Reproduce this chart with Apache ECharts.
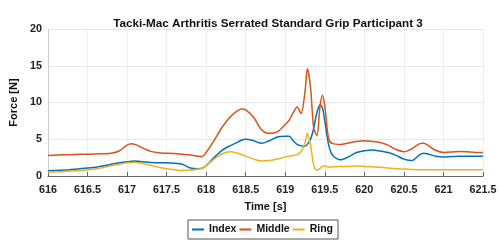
<!DOCTYPE html>
<html><head><meta charset="utf-8">
<script src="https://cdn.jsdelivr.net/npm/echarts@6/dist/echarts.min.js"></script>
<style>html,body{margin:0;padding:0;background:#fff}#c{width:500px;height:240px}</style>
</head><body><div id="c"></div>
<script>
const times = [616.0,616.2,616.4,616.6,616.8,616.9,617.0,617.05,617.1,617.2,617.3,617.4,617.5,617.6,617.7,617.8,617.9,617.95,618.0,618.1,618.2,618.3,618.4,618.45,618.5,618.6,618.7,618.8,618.9,619.0,619.05,619.1,619.15,619.2,619.25,619.28,619.32,619.36,619.4,619.44,619.47,619.5,619.55,619.6,619.7,619.8,619.9,620.0,620.1,620.2,620.3,620.4,620.5,620.6,620.7,620.75,620.8,620.9,621.0,621.1,621.2,621.3,621.4,621.5];
const indexF = [0.7,0.8,1.0,1.2,1.6,1.8,1.95,2.0,2.05,1.95,1.85,1.8,1.8,1.75,1.6,1.1,1.0,1.05,1.4,2.5,3.5,4.1,4.6,4.9,5.0,4.8,4.45,4.8,5.3,5.4,5.4,4.8,4.3,4.1,4.05,4.3,5.0,6.5,8.6,9.7,9.3,7.5,4.2,2.8,2.2,2.6,3.2,3.45,3.55,3.4,3.2,2.8,2.3,2.1,2.9,3.1,3.0,2.7,2.6,2.65,2.7,2.7,2.7,2.7];
const middleF = [2.8,2.9,2.95,3.0,3.1,3.4,4.2,4.4,4.3,3.8,3.35,3.15,3.1,3.05,2.95,2.85,2.7,2.65,3.2,4.8,6.6,8.0,8.9,9.1,9.0,8.0,6.3,5.8,6.0,7.0,7.6,8.6,9.4,8.5,11.5,14.6,12.0,6.5,5.5,9.5,11.0,9.5,5.0,4.4,4.3,4.5,4.7,4.8,4.7,4.55,4.2,3.6,3.3,3.7,4.4,4.45,4.2,3.5,3.2,3.25,3.35,3.3,3.2,3.2];
const ringF = [0.5,0.6,0.75,0.95,1.4,1.6,1.8,1.85,1.85,1.7,1.45,1.2,1.0,0.85,0.75,0.8,0.95,1.05,1.4,2.3,3.0,3.3,3.1,2.9,2.7,2.3,2.05,2.1,2.3,2.6,2.7,2.8,2.9,3.3,4.5,5.8,4.2,1.5,0.8,1.0,1.3,1.35,1.2,1.25,1.3,1.3,1.35,1.3,1.25,1.2,1.1,1.0,0.95,0.9,0.85,0.85,0.85,0.85,0.85,0.85,0.85,0.85,0.85,0.85];
const seriesNames = ['Index','Middle','Ring'];
const colors = ['#0072BD','#D95319','#EDB120'];
const font = '"Liberation Sans",Arial,sans-serif';
const chart = echarts.init(document.getElementById('c'));
const dataSets = [indexF, middleF, ringF];
chart.setOption({
  animation:false,
  title:{text:'Tacki-Mac Arthritis Serrated Standard Grip Participant 3',left:263,top:13,textAlign:'center',
    textStyle:{fontFamily:font,fontWeight:'bold',fontSize:11.7,color:'#111'}},
  grid:{left:43,right:17,top:29,bottom:64},
  legend:{data:seriesNames,left:188,top:220,itemWidth:12,itemHeight:2,itemGap:2,padding:[4,5,4,3],
    borderColor:'#555',borderWidth:1,
    textStyle:{fontFamily:font,fontWeight:'bold',fontSize:10.5,color:'#111'}},
  xAxis:{type:'value',min:616,max:621.5,interval:0.5,name:'Time [s]',nameLocation:'middle',nameGap:25,
    nameTextStyle:{fontFamily:font,fontWeight:'bold',fontSize:11,color:'#111'},
    axisLine:{lineStyle:{color:'#666'}},axisTick:{inside:true,length:4,lineStyle:{color:'#666'}},
    axisLabel:{fontFamily:font,fontWeight:'bold',fontSize:10.8,color:'#222',margin:9,formatter:v=>String(Math.round(v*10)/10)},
    splitLine:{show:true,lineStyle:{color:'#eeeeee'}}},
  yAxis:{type:'value',min:0,max:20,interval:5,name:'Force [N]',nameLocation:'middle',nameGap:24,
    nameTextStyle:{fontFamily:font,fontWeight:'bold',fontSize:11,color:'#111'},
    axisLine:{show:true,lineStyle:{color:'#cccccc'}},axisTick:{show:false},
    axisLabel:{fontFamily:font,fontWeight:'bold',fontSize:10.8,color:'#222',margin:6},
    splitLine:{show:true,lineStyle:{color:'#e6e6e6'}}},
  series:seriesNames.map((n,i)=>({name:n,type:'line',symbol:'none',smooth:0.3,
    data:times.map((t,j)=>[t,dataSets[i][j]]),
    lineStyle:{width:1.5,color:colors[i]},itemStyle:{color:colors[i]}}))
});
</script></body></html>
